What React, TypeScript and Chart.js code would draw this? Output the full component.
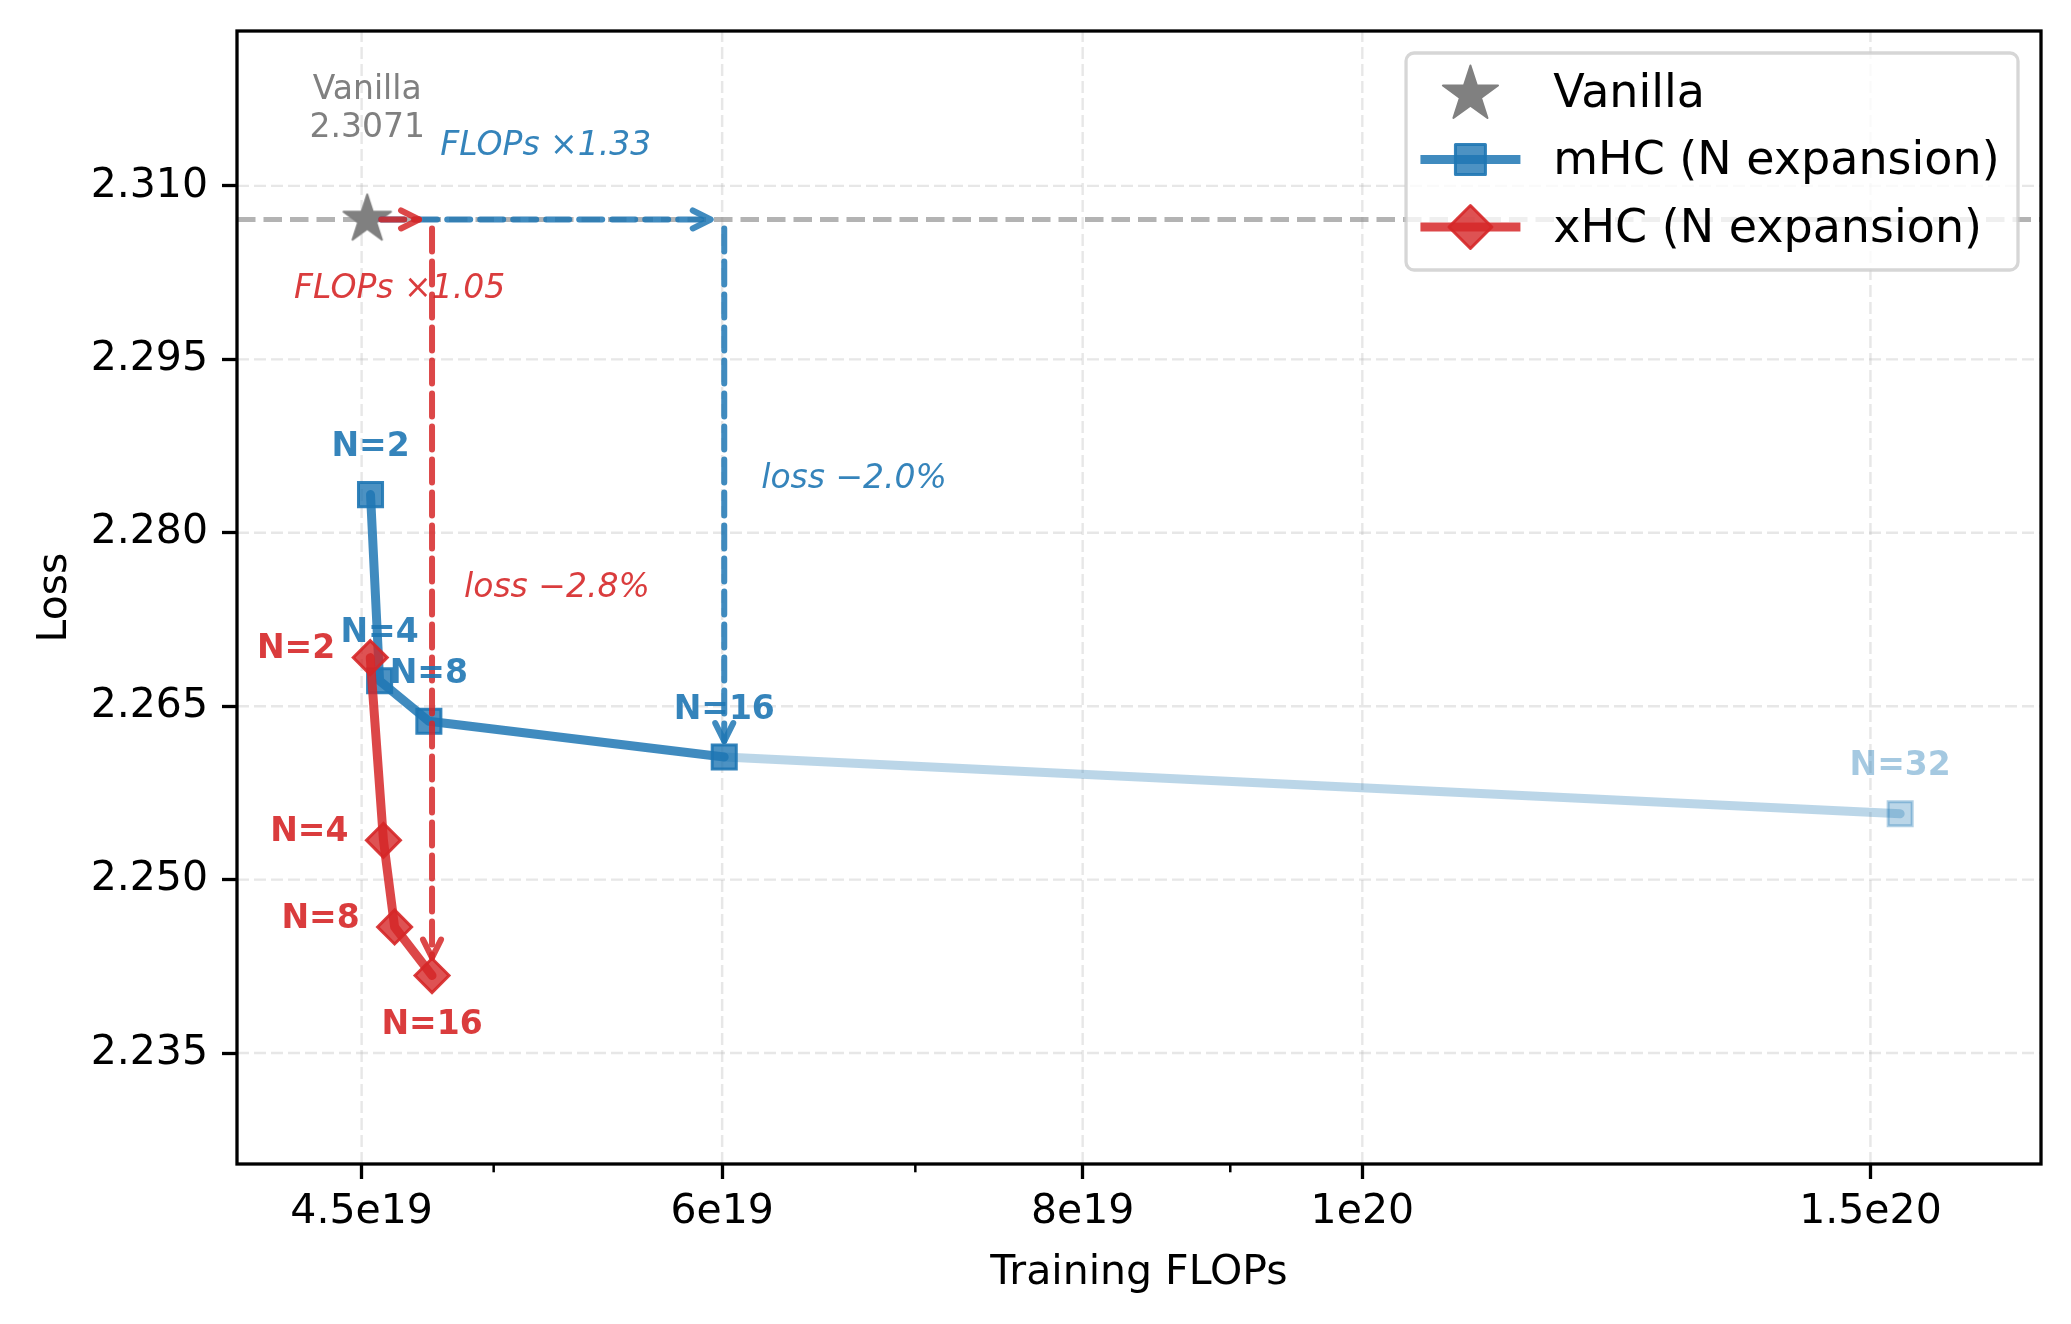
import React, { useEffect, useRef } from "react";
import { Chart, registerables } from "chart.js";

Chart.register(...registerables);

// ---------------- data ----------------
const vanillaFlops = [4.52e19];
const vanillaLoss = [2.3071];
const vanillaNames = ["Vanilla"];

const mhcLabels = ["N=2", "N=4", "N=8", "N=16"];
const mhcFlops = [4.532e19, 4.565e19, 4.748e19, 6.01e19];
const mhcLoss = [2.2833, 2.2672, 2.2637, 2.2606];

const mhcExtLabels = ["", "N=32"];
const mhcExtFlops = [6.01e19, 1.536e20];
const mhcExtLoss = [2.2606, 2.2557];

const xhcLabels = ["N=2", "N=4", "N=8", "N=16"];
const xhcFlops = [4.531e19, 4.579e19, 4.62e19, 4.76e19];
const xhcLoss = [2.2692, 2.2534, 2.2459, 2.2417];

const xTickValues = [4.5e19, 6e19, 8e19, 1e20, 1.5e20];
const xTickLabels = ["4.5e19", "6e19", "8e19", "1e20", "1.5e20"];
const xMinorTickValues = [5e19, 7e19, 9e19];
const yTickValues = [2.235, 2.25, 2.265, 2.28, 2.295, 2.31];
const yTickLabels = ["2.235", "2.250", "2.265", "2.280", "2.295", "2.310"];
const xLimits = [4.074e19, 1.7187e20];
const yLimits = [2.2254, 2.3234];

const legendLabels = ["Vanilla", "mHC (N expansion)", "xHC (N expansion)"];
const flopsNotes = ["FLOPs \u00d71.33", "FLOPs \u00d71.05"];
const lossNotes = ["loss \u22122.0%", "loss \u22122.8%"];
const axisTitles = ["Training FLOPs", "Loss"];

// ---------------- styles ----------------
const BLUE = [31, 119, 180];
const RED = [214, 39, 40];
const GREY = [128, 128, 128];
const rgba = (c: number[], a: number) => `rgba(${c[0]},${c[1]},${c[2]},${a})`;
const FONT = "'DejaVu Sans'";
const TY = 3; // small vertical nudge so text sits like matplotlib's center alignment

Chart.defaults.font.family = FONT;
Chart.defaults.color = "#000";

function starPath(ctx: CanvasRenderingContext2D, cx: number, cy: number, R: number) {
  const r = R * 0.381966;
  ctx.beginPath();
  for (let i = 0; i < 10; i++) {
    const ang = -Math.PI / 2 + (i * Math.PI) / 5;
    const rad = i % 2 === 0 ? R : r;
    const px = cx + rad * Math.cos(ang);
    const py = cy + rad * Math.sin(ang);
    if (i === 0) ctx.moveTo(px, py);
    else ctx.lineTo(px, py);
  }
  ctx.closePath();
}

function drawStar(ctx: CanvasRenderingContext2D, cx: number, cy: number, R: number, color: string) {
  starPath(ctx, cx, cy, R);
  ctx.fillStyle = color;
  ctx.fill();
  ctx.lineJoin = "round";
  ctx.lineWidth = 2;
  ctx.strokeStyle = color;
  ctx.stroke();
}

function makeStarCanvas(R: number) {
  const c = document.createElement("canvas");
  const s = Math.ceil(R * 2 + 6);
  c.width = s;
  c.height = s;
  const ctx = c.getContext("2d")!;
  drawStar(ctx, s / 2, s / 2, R, rgba(GREY, 1));
  return c;
}

function seg(ctx: CanvasRenderingContext2D, x1: number, y1: number, x2: number, y2: number) {
  ctx.beginPath();
  ctx.moveTo(x1, y1);
  ctx.lineTo(x2, y2);
  ctx.stroke();
}

function drawArrow(
  ctx: CanvasRenderingContext2D,
  x1: number, y1: number, x2: number, y2: number,
  color: string, shrinkA: number, shrinkB: number
) {
  const dx = x2 - x1, dy = y2 - y1;
  const len = Math.hypot(dx, dy) || 1;
  const ux = dx / len, uy = dy / len;
  const sx = x1 + ux * shrinkA, sy = y1 + uy * shrinkA;
  const ex = x2 - ux * shrinkB, ey = y2 - uy * shrinkB;
  ctx.save();
  ctx.strokeStyle = color;
  ctx.lineWidth = 6;
  ctx.lineCap = "round";
  ctx.lineJoin = "round";
  ctx.setLineDash([23, 10]);
  seg(ctx, sx, sy, ex, ey);
  ctx.setLineDash([]);
  const hl = 18, hw = 9;
  const bx = ex - ux * hl, by = ey - uy * hl;
  const px = -uy, py = ux;
  ctx.beginPath();
  ctx.moveTo(bx + px * hw, by + py * hw);
  ctx.lineTo(ex, ey);
  ctx.lineTo(bx - px * hw, by - py * hw);
  ctx.stroke();
  ctx.restore();
}

const overlayPlugin = {
  id: "overlay",
  beforeDatasetsDraw(chart: any) {
    const { ctx, chartArea: a, scales } = chart;
    const x = scales.x, y = scales.y;
    ctx.save();
    // grid
    ctx.strokeStyle = "rgba(176,176,176,0.3)";
    ctx.lineWidth = 2.4;
    ctx.setLineDash([12, 5]);
    for (const v of xTickValues) {
      const px = x.getPixelForValue(v);
      seg(ctx, px, a.bottom, px, a.top);
    }
    for (const v of yTickValues) {
      const py = y.getPixelForValue(v);
      seg(ctx, a.left, py, a.right, py);
    }
    // vanilla reference line
    const vy = y.getPixelForValue(vanillaLoss[0]);
    ctx.strokeStyle = "rgba(128,128,128,0.6)";
    ctx.lineWidth = 5;
    ctx.setLineDash([18.5, 8]);
    seg(ctx, a.left, vy, a.right, vy);
    ctx.restore();
  },
  afterDatasetsDraw(chart: any) {
    const { ctx, scales } = chart;
    const x = scales.x, y = scales.y;
    const vx = x.getPixelForValue(vanillaFlops[0]);
    const vy = y.getPixelForValue(vanillaLoss[0]);
    const mx = x.getPixelForValue(mhcFlops[3]);
    const my = y.getPixelForValue(mhcLoss[3]);
    const rx = x.getPixelForValue(xhcFlops[3]);
    const ry = y.getPixelForValue(xhcLoss[3]);
    const blueA = rgba(BLUE, 0.85);
    const redA = rgba(RED, 0.85);

    // arrows
    drawArrow(ctx, vx, vy, mx, vy, blueA, 14, 13.5);
    drawArrow(ctx, vx, vy, rx, vy, redA, 14, 13);
    drawArrow(ctx, mx, vy, mx, my, blueA, 9, 16);
    drawArrow(ctx, rx, vy, rx, ry, redA, 9, 18);

    ctx.save();
    // vanilla text
    ctx.fillStyle = rgba(GREY, 1);
    ctx.font = `33px ${FONT}`;
    ctx.textAlign = "center";
    ctx.textBaseline = "middle";
    ctx.fillText(vanillaNames[0], vx, vy - 132 + TY);
    ctx.fillText(vanillaLoss[0].toFixed(4), vx, vy - 94 + TY);

    // notes
    ctx.font = `italic 33px ${FONT}`;
    ctx.fillStyle = rgba(BLUE, 0.9);
    ctx.fillText(flopsNotes[0], (vx + mx) / 2, vy - 76 + TY);
    ctx.fillStyle = rgba(RED, 0.9);
    ctx.fillText(flopsNotes[1], (vx + rx) / 2, vy + 66.5 + TY);
    ctx.textAlign = "left";
    ctx.fillStyle = rgba(BLUE, 0.9);
    ctx.fillText(lossNotes[0], mx + 37, (vy + my) / 2 - 12 + TY);
    ctx.fillStyle = rgba(RED, 0.9);
    ctx.fillText(lossNotes[1], rx + 32, (vy + ry) / 2 - 12 + TY);

    // point labels
    ctx.font = `bold 33px ${FONT}`;
    const mMeta = chart.getDatasetMeta(2);
    ctx.textAlign = "center";
    ctx.fillStyle = rgba(BLUE, 0.9);
    mhcLabels.forEach((t, i) => {
      const p = mMeta.data[i];
      ctx.fillText(t, p.x, p.y - 50 + TY);
    });
    const eMeta = chart.getDatasetMeta(3);
    ctx.fillStyle = rgba(BLUE, 0.4);
    mhcExtLabels.forEach((t, i) => {
      if (!t) return;
      const p = eMeta.data[i];
      ctx.fillText(t, p.x, p.y - 50 + TY);
    });
    const xMeta = chart.getDatasetMeta(1);
    ctx.fillStyle = rgba(RED, 0.9);
    xhcLabels.forEach((t, i) => {
      const p = xMeta.data[i];
      if (i === xhcLabels.length - 1) {
        ctx.textAlign = "center";
        ctx.fillText(t, p.x, p.y + 47 + TY);
      } else {
        ctx.textAlign = "right";
        ctx.fillText(t, p.x - 35, p.y - 11 + TY);
      }
    });
    ctx.restore();
  },
  afterDraw(chart: any) {
    const { ctx, chartArea: a, scales } = chart;
    const x = scales.x;
    ctx.save();
    // frame
    ctx.strokeStyle = "#000";
    ctx.lineWidth = 3.3;
    ctx.setLineDash([]);
    ctx.strokeRect(a.left, a.top, a.right - a.left, a.bottom - a.top);
    // minor ticks
    ctx.lineWidth = 2.5;
    for (const v of xMinorTickValues) {
      const px = x.getPixelForValue(v);
      seg(ctx, px, a.bottom, px, a.bottom + 8.3);
    }

    // legend
    const fs = 46;
    ctx.font = `${fs}px ${FONT}`;
    const textW = Math.max(...legendLabels.map((t) => ctx.measureText(t).width));
    const pad = 0.4 * fs, handleLen = 2 * fs, handlePad = 0.8 * fs;
    const w = pad + handleLen + handlePad + textW + pad;
    const h = 217;
    const right = a.right - 23, top = a.top + 22, left = right - w;
    ctx.beginPath();
    (ctx as any).roundRect(left, top, w, h, 8);
    ctx.fillStyle = "rgba(255,255,255,0.8)";
    ctx.fill();
    ctx.strokeStyle = "rgba(204,204,204,0.8)";
    ctx.lineWidth = 3.3;
    ctx.stroke();

    const hx0 = left + pad, hx1 = hx0 + handleLen, hcx = (hx0 + hx1) / 2;
    const tx = hx1 + handlePad;
    legendLabels.forEach((t, i) => {
      const cy = top + 39 + i * 67.5;
      if (i === 0) {
        drawStar(ctx, hcx, cy + 2.5, 29, rgba(GREY, 1));
      } else {
        const col = i === 1 ? BLUE : RED;
        ctx.strokeStyle = rgba(col, 0.85);
        ctx.lineWidth = 9;
        ctx.lineCap = "butt";
        seg(ctx, hx0 - 4, cy, hx1 + 4, cy);
        ctx.beginPath();
        if (i === 1) {
          ctx.rect(hcx - 15, cy - 15, 30, 30);
        } else {
          ctx.moveTo(hcx - 21.5, cy);
          ctx.lineTo(hcx, cy - 21.5);
          ctx.lineTo(hcx + 21.5, cy);
          ctx.lineTo(hcx, cy + 21.5);
          ctx.closePath();
        }
        ctx.fillStyle = rgba(col, 0.8);
        ctx.fill();
        ctx.strokeStyle = rgba(col, 0.9);
        ctx.lineWidth = 3;
        ctx.stroke();
      }
      ctx.fillStyle = "#000";
      ctx.textAlign = "left";
      ctx.textBaseline = "middle";
      ctx.font = `${fs}px ${FONT}`;
      ctx.fillText(t, tx, cy + TY);
    });
    ctx.restore();
  },
};

const toPoints = (xs: number[], ys: number[]) => xs.map((x, i) => ({ x, y: ys[i] }));

export default function App() {
  const ref = useRef<HTMLCanvasElement>(null);
  useEffect(() => {
    document.body.style.margin = "0";
    const canvas = ref.current!;
    const star = makeStarCanvas(25);
    const chart = new Chart(canvas, {
      type: "scatter",
      data: {
        datasets: [
          {
            label: legendLabels[0],
            data: toPoints(vanillaFlops, vanillaLoss),
            pointStyle: star as any,
            pointRadius: 25,
            showLine: false,
          },
          {
            label: legendLabels[2],
            data: toPoints(xhcFlops, xhcLoss),
            showLine: true,
            borderColor: rgba(RED, 0.85),
            borderWidth: 9,
            borderJoinStyle: "round",
            borderCapStyle: "round",
            pointStyle: "rectRot",
            pointRadius: 17,
            pointBackgroundColor: rgba(RED, 0.8),
            pointBorderColor: rgba(RED, 0.9),
            pointBorderWidth: 3,
          },
          {
            label: legendLabels[1],
            data: toPoints(mhcFlops, mhcLoss),
            showLine: true,
            borderColor: rgba(BLUE, 0.85),
            borderWidth: 9,
            borderJoinStyle: "round",
            borderCapStyle: "round",
            pointStyle: "rect",
            pointRadius: 17,
            pointBackgroundColor: rgba(BLUE, 0.8),
            pointBorderColor: rgba(BLUE, 0.9),
            pointBorderWidth: 3,
          },
          {
            label: "mHC N=32",
            data: toPoints(mhcExtFlops, mhcExtLoss),
            showLine: true,
            borderColor: rgba(BLUE, 0.3),
            borderWidth: 9,
            borderCapStyle: "round",
            pointStyle: "rect",
            pointRadius: [0, 17],
            pointBackgroundColor: rgba(BLUE, 0.3),
            pointBorderColor: rgba(BLUE, 0.35),
            pointBorderWidth: 3,
          },
        ] as any,
      },
      options: {
        responsive: false,
        animation: false,
        devicePixelRatio: 1,
        events: [],
        layout: { padding: { left: 0, top: 31, right: 30, bottom: 0 } },
        plugins: { legend: { display: false }, tooltip: { enabled: false } },
        scales: {
          x: {
            type: "logarithmic",
            min: xLimits[0],
            max: xLimits[1],
            afterBuildTicks: (scale: any) => {
              scale.ticks = xTickValues.map((v) => ({ value: v }));
            },
            afterFit: (scale: any) => {
              scale.height = 160;
              scale.paddingLeft = 0;
              scale.paddingRight = 0;
              scale.paddingTop = 0;
              scale.paddingBottom = 0;
            },
            ticks: {
              callback: (value: any) => {
                const i = xTickValues.indexOf(Number(value));
                return i >= 0 ? xTickLabels[i] : "";
              },
              autoSkip: false,
              maxRotation: 0,
              minRotation: 0,
              padding: 9,
              color: "#000",
              font: { size: 41 },
            },
            grid: {
              drawOnChartArea: false,
              drawTicks: true,
              tickLength: 15,
              tickWidth: 3.3,
              tickColor: "#000",
            },
            border: { display: false },
            title: {
              display: true,
              text: axisTitles[0],
              color: "#000",
              font: { size: 41 },
              padding: { top: 0, bottom: 26 },
            },
          },
          y: {
            type: "linear",
            min: yLimits[0],
            max: yLimits[1],
            afterBuildTicks: (scale: any) => {
              scale.ticks = yTickValues.map((v) => ({ value: v }));
            },
            afterFit: (scale: any) => {
              scale.width = 237;
              scale.paddingLeft = 0;
              scale.paddingRight = 0;
              scale.paddingTop = 0;
              scale.paddingBottom = 0;
            },
            ticks: {
              callback: (_v: any, i: number) => yTickLabels[i],
              padding: 14,
              color: "#000",
              font: { size: 41 },
            },
            grid: {
              drawOnChartArea: false,
              drawTicks: true,
              tickLength: 15,
              tickWidth: 3.3,
              tickColor: "#000",
            },
            border: { display: false },
            title: {
              display: true,
              text: axisTitles[1],
              color: "#000",
              font: { size: 41 },
              padding: { top: 31, bottom: 0 },
            },
          },
        },
      } as any,
      plugins: [overlayPlugin],
    });
    return () => chart.destroy();
  }, []);
  return (
    <div style={{ width: 2071, height: 1324, background: "#fff" }}>
      <canvas ref={ref} width={2071} height={1324} style={{ display: "block", width: 2071, height: 1324 }} />
    </div>
  );
}
